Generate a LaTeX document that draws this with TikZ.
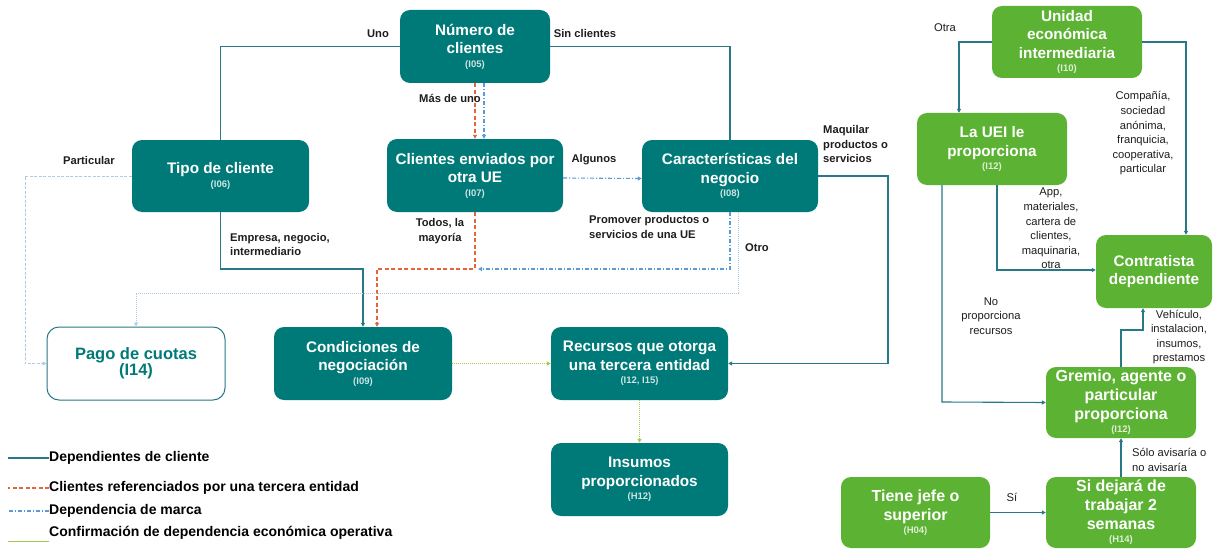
\documentclass[tikz,border=0pt]{standalone}
\usepackage{fontspec}
\setmainfont{Liberation Sans}
\usetikzlibrary{arrows.meta}
\definecolor{tealbox}{RGB}{0,122,120}
\definecolor{greenbox}{RGB}{92,178,50}
\definecolor{lineteal}{RGB}{40,120,135}
\definecolor{redline}{RGB}{228,100,60}
\definecolor{blueline}{RGB}{90,155,215}
\definecolor{lightblue}{RGB}{175,205,225}
\definecolor{greenline}{RGB}{160,205,80}
\definecolor{labelc}{RGB}{30,30,30}
\newcommand{\boxtitle}{\fontsize{15.3}{18.5}\selectfont\bfseries}
\newcommand{\boxtitlebig}{\fontsize{16}{19}\selectfont\bfseries}
\newcommand{\tid}{\fontsize{9.5}{11}\selectfont\bfseries\color{white!80!tealbox}}
\newcommand{\gid}{\fontsize{9.5}{11}\selectfont\bfseries\color{white!80!greenbox}}
\newcommand{\lblfont}{\fontsize{11.2}{14.6}\selectfont\bfseries}
\newcommand{\lblreg}{\fontsize{11.2}{14.6}\selectfont}
\newcommand{\legfont}{\fontsize{14}{16}\selectfont\bfseries}
\tikzset{
  tbox/.style={rectangle, rounded corners=10pt, fill=tealbox, text=white, align=center, font=\boxtitle, inner sep=1pt},
  gbox/.style={rectangle, rounded corners=10pt, fill=greenbox, text=white, align=center, font=\boxtitle, inner sep=1pt},
  wbox/.style={rectangle, rounded corners=12pt, fill=white, draw=lineteal, line width=1pt, text=tealbox, align=center, font=\fontsize{16.5}{20}\selectfont\bfseries, inner sep=1pt},
  lbl/.style={font=\lblfont, text=labelc, align=center, inner sep=0pt},
  lblr/.style={font=\lblreg, text=labelc, align=center, inner sep=0pt},
  leg/.style={font=\legfont, text=black, anchor=west, inner sep=0pt},
  tip/.style={-{Triangle[length=4pt,width=4pt]}},
  dep/.style={draw=lineteal, line width=1.1pt},
  ref/.style={draw=redline, line width=1.2pt, dash pattern=on 4pt off 2.5pt},
  mar/.style={draw=blueline, line width=1.1pt, dash pattern=on 4pt off 2pt on 1pt off 2pt},
  faint/.style={draw=lightblue, line width=1pt, dash pattern=on 3pt off 1.5pt},
  fainter/.style={draw=lightblue, line width=1pt, dash pattern=on 1pt off 1pt},
  conf/.style={draw=greenline, line width=1.1pt, dash pattern=on 1pt off 1pt},
}
\begin{document}
\begin{tikzpicture}[x=1pt,y=-1pt]
\useasboundingbox (0,0) rectangle (1222,559);
\fill[white] (0,0) rectangle (1222,559);

% left part nodes
\node[tbox, minimum width=150pt, minimum height=73pt] (n05) at (475,46.5) {Número de\\clientes\\[-5pt]{\tid (I05)}};
\node[tbox, minimum width=177pt, minimum height=72pt] (n06) at (220.5,176) {Tipo de cliente\\[-5pt]{\tid (I06)}};
\node[tbox, minimum width=176pt, minimum height=73pt] (n07) at (475,175.5) {Clientes enviados por\\otra UE\\[-5pt]{\tid (I07)}};
\node[tbox, minimum width=176pt, minimum height=72pt] (n08) at (730,176) {Características del\\negocio\\[-5pt]{\tid (I08)}};
\node[wbox, minimum width=178pt, minimum height=73pt] (n14) at (136,363.5) {Pago de cuotas\\[-4pt](I14)};
\node[tbox, minimum width=178pt, minimum height=73pt] (n09) at (363,363.5) {Condiciones de\\negociación\\[-5pt]{\tid (I09)}};
\node[tbox, minimum width=177pt, minimum height=73pt] (nrec) at (639.5,363.5) {Recursos que otorga\\una tercera entidad\\[-5pt]{\tid (I12, I15)}};
\node[tbox, minimum width=177pt, minimum height=73pt] (nins) at (639.5,479.5) {Insumos\\proporcionados\\[-5pt]{\tid (H12)}};

% right part nodes
\node[gbox, minimum width=150pt, minimum height=72pt] (n10) at (1067,42) {Unidad\\económica\\intermediaria\\[-5pt]{\gid (I10)}};
\node[gbox, minimum width=150pt, minimum height=72pt] (n12) at (992,149) {La UEI le\\proporciona\\[-5pt]{\gid (I12)}};
\node[gbox, minimum width=116pt, minimum height=73pt] (ncon) at (1154,271.5) {Contratista\\dependiente};
\node[gbox, font=\boxtitlebig, minimum width=150pt, minimum height=71pt] (ngre) at (1121,402.5) {Gremio, agente o\\particular\\proporciona\\[-6pt]{\gid (I12)}};
\node[gbox, font=\boxtitlebig, minimum width=150pt, minimum height=71pt] (nh14) at (1121,512.5) {Si dejará de\\trabajar 2\\semanas\\[-6pt]{\gid (H14)}};
\node[gbox, font=\boxtitlebig, minimum width=149pt, minimum height=71pt] (n04) at (915.5,512.5) {Tiene jefe o\\superior\\[-6pt]{\gid (H04)}};

% helper coordinates
\coordinate (rc) at (377,269);
\coordinate (tc) at (363,269);
\coordinate (bc) at (478,269);
\coordinate (oc) at (136,293);
\coordinate (pc) at (25,176);
\coordinate (mc) at (888,176);
\coordinate (oc2) at (959,42);
\coordinate (cc) at (1186,42);
\coordinate (ac) at (997,270);
\coordinate (npc) at (942,402);
\coordinate (vc) at (1143,330);

% left connectors
\draw[dep] (n05.west) -| (n06.north);
\draw[dep] (n05.east) -| (n08.north);
\draw[ref,tip] (n05.south) -- (n07.north);
\draw[mar,tip] ([xshift=9pt]n05.south) -- ([xshift=9pt]n07.north);
\draw[mar,tip] ([yshift=-2.5pt]n07.east) -- ([yshift=-2.5pt]n08.west);
\draw[ref,tip] (n07.south) |- (rc) -- (rc |- n09.north);
\draw[dep,tip] (n06.south) |- (tc) -- (n09.north);
\draw[mar,tip] (n08.south) |- (bc);
\draw[fainter,tip] ([xshift=8pt]n08.south) |- (oc) -- (n14.north);
\draw[faint,tip] (n06.west) -- (pc) |- (n14.west);
\draw[dep,tip] (n08.east) -- (mc) |- (nrec.east);
\draw[conf,tip] (n09.east) -- (nrec.west);
\draw[conf,tip] (nrec.south) -- (nins.north);

% right connectors
\draw[dep,tip] (n10.west) -- (oc2) -- (oc2 |- n12.north);
\draw[dep,tip] (n10.east) -- (cc) -- (cc |- ncon.north);
\draw[dep,tip] (ac |- n12.south) -- (ac) -- (ac -| ncon.west);
\draw[dep,tip] (npc |- n12.south) -- (npc) -- (ngre.west);
\draw[dep,tip] (ngre.north) -- (ngre.north |- vc) -- (vc) -- (vc |- ncon.south);
\draw[dep,tip] (nh14.north) -- (ngre.south);
\draw[dep,tip] (n04.east) -- (nh14.west);

% labels
\node[lbl] (l1) at (378,34) {Uno};
\node[lbl] (l2) at (585,33) {Sin clientes};
\node[lbl] (l3) at (450,98) {Más de uno};
\node[lbl] (l4) at (594,160) {Algunos};
\node[lbl] (l5) at (440,231) {Todos, la\\mayoría};
\node[lbl, align=left, anchor=west] (l6) at (589,227) {Promover productos o\\servicios de una UE};
\node[lbl] (l7) at (757,248) {Otro};
\node[lbl] (l8) at (89,160) {Particular};
\node[lbl, align=left, anchor=west] (l9) at (230,244.5) {Empresa, negocio,\\intermediario};
\node[lbl, align=left, anchor=west] (l10) at (823,144) {Maquilar\\productos o\\servicios};
\node[lblr] (r1) at (945,28) {Otra};
\node[lblr] (r2) at (1143,133.5) {Compañía,\\sociedad\\anónima,\\franquicia,\\cooperativa,\\particular};
\node[lblr] (r3) at (1051,228.5) {App,\\materiales,\\cartera de\\clientes,\\maquinaria,\\otra};
\node[lblr] (r4) at (991,316) {No\\proporciona\\recursos};
\node[lblr] (r5) at (1179,337) {Vehículo,\\instalacion,\\insumos,\\prestamos};
\node[lblr, align=left, anchor=west] (r6) at (1132,460) {Sólo avisaría o\\no avisaría};
\node[lblr] (r7) at (1012,497) {Sí};

% legend
\node[leg] (lg1) at (49,458) {Dependientes de cliente};
\node[leg] (lg2) at (49,488) {Clientes referenciados por una tercera entidad};
\node[leg] (lg3) at (49,511) {Dependencia de marca};
\node[leg] (lg4) at (49,533) {Confirmación de dependencia económica operativa};
\draw[dep] (lg1.west) -- ++(-41,0);
\draw[ref] (lg2.west) -- ++(-41,0);
\draw[mar] (lg3.west) -- ++(-41,0);
\draw[draw=greenline, line width=1pt] ([yshift=-8pt]lg4.west) -- ++(-41,0);
\end{tikzpicture}
\end{document}
